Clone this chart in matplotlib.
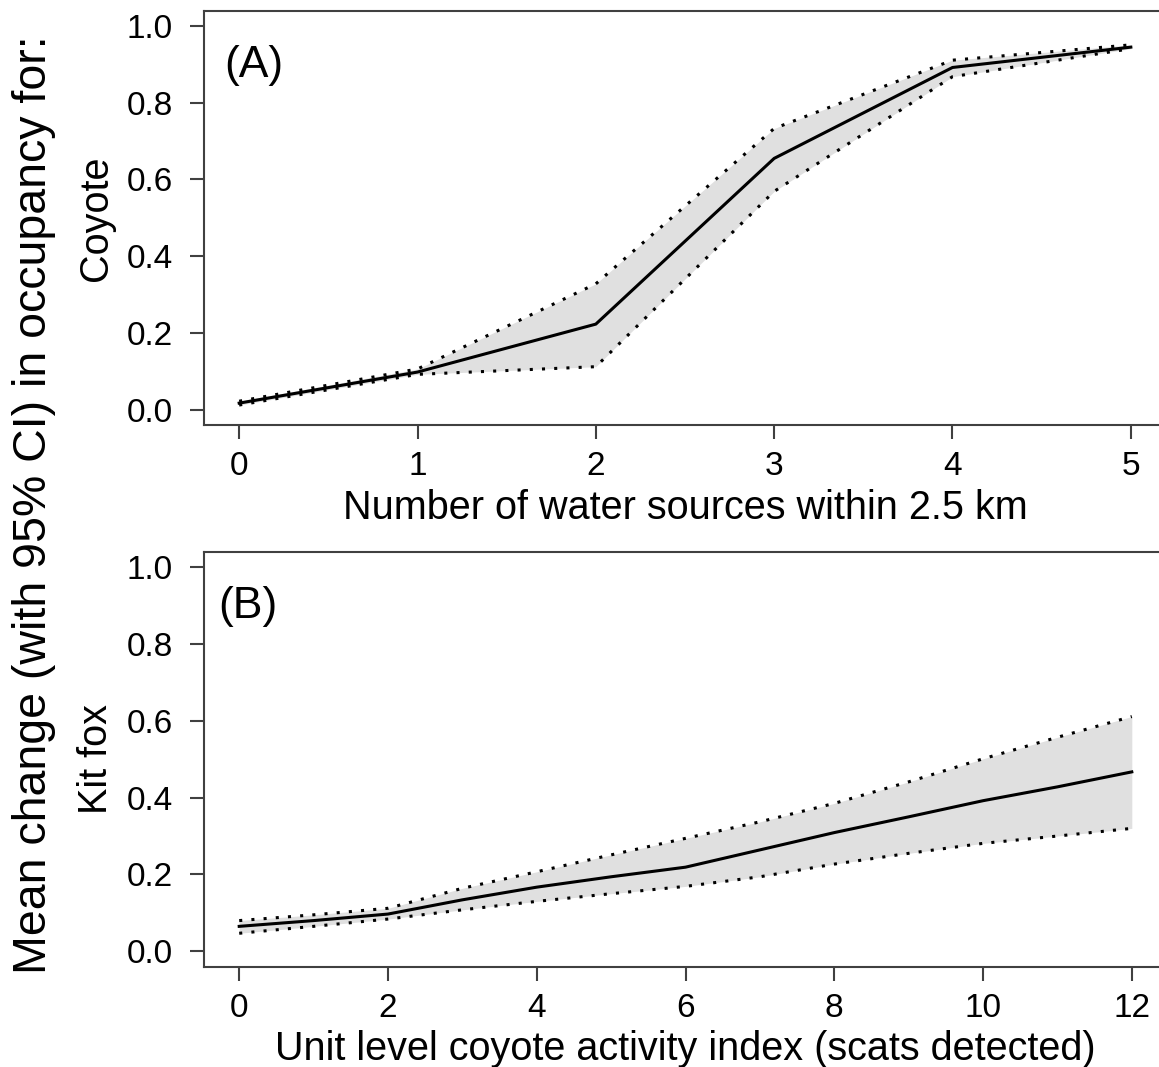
import matplotlib
matplotlib.use("Agg")
import matplotlib.pyplot as plt

# ---- data ----
water_x = [0, 1, 2, 3, 4, 5]
coyote_mean = [0.017, 0.098, 0.223, 0.655, 0.892, 0.945]
coyote_upper = [0.022, 0.106, 0.328, 0.733, 0.911, 0.951]
coyote_lower = [0.012, 0.092, 0.112, 0.569, 0.868, 0.941]

scat_x = [0, 1, 2, 3, 4, 5, 6, 7, 8, 9, 10, 11, 12]
kitfox_mean = [0.065, 0.080, 0.097, 0.134, 0.167, 0.194, 0.219, 0.264, 0.309, 0.350, 0.392, 0.428, 0.467]
kitfox_upper = [0.080, 0.095, 0.112, 0.164, 0.207, 0.251, 0.294, 0.337, 0.385, 0.441, 0.501, 0.557, 0.611]
kitfox_lower = [0.047, 0.065, 0.084, 0.108, 0.130, 0.150, 0.169, 0.194, 0.227, 0.255, 0.281, 0.300, 0.320]

top_xticks = [0, 1, 2, 3, 4, 5]
bot_xticks = [0, 2, 4, 6, 8, 10, 12]
yticks = [0.0, 0.2, 0.4, 0.6, 0.8, 1.0]
ytick_labels = ["0.0", "0.2", "0.4", "0.6", "0.8", "1.0"]

plt.rcParams['font.family'] = ['Liberation Sans', 'DejaVu Sans']

W, H = 1159, 1067
fig = plt.figure(figsize=(W / 100, H / 100), dpi=100)

spine_col = '#404040'
fill_col = '#e0e0e0'

def px(x, y):
    return x / W, 1 - y / H

def panel(rect, x, m, lo, hi, xlim, xticks, label):
    ax = fig.add_axes(rect)
    ax.fill_between(x, lo, hi, color=fill_col, lw=0, zorder=1)
    ax.plot(x, hi, color='black', lw=2.2, ls=(0, (1, 3)), zorder=2)
    ax.plot(x, lo, color='black', lw=2.2, ls=(0, (1, 3)), zorder=2)
    ax.plot(x, m, color='black', lw=2.2, zorder=3)
    ax.set_xlim(*xlim)
    ax.set_ylim(-0.04, 1.04)
    ax.set_xticks(xticks)
    ax.set_xticklabels([str(t) for t in xticks])
    ax.set_yticks(yticks)
    ax.set_yticklabels(ytick_labels)
    for s in ['left', 'bottom', 'top', 'right']:
        ax.spines[s].set_color(spine_col)
        ax.spines[s].set_linewidth(1.5)
    ax.tick_params(axis='both', direction='out', length=10, width=1.5,
                   color=spine_col, labelsize=24, labelcolor='black')
    ax.tick_params(axis='x', pad=9)
    ax.tick_params(axis='y', pad=12)
    ax.text(label[1], 0.868, label[0], transform=ax.transAxes,
            fontsize=32, ha='left', va='center')
    return ax

axA = panel([203.5 / W, 1 - 425 / H, 963 / W, 414.3 / H],
            water_x, coyote_mean, coyote_lower, coyote_upper,
            (-0.2, 5.2), top_xticks, ("(A)", 0.022))
axB = panel([203.5 / W, 1 - 966.7 / H, 964 / W, 415 / H],
            scat_x, kitfox_mean, kitfox_lower, kitfox_upper,
            (-0.48, 12.48), bot_xticks, ("(B)", 0.015))

x, y = px(685, 519)
fig.text(x, y, "Number of water sources within 2.5 km", fontsize=28.5,
         ha='center', va='baseline')
x, y = px(685, 1060)
fig.text(x, y, "Unit level coyote activity index (scats detected)", fontsize=28.5,
         ha='center', va='baseline')

x, y = px(96, 218)
fig.text(x, y, "Coyote", fontsize=28.5, rotation=90, ha='center', va='center')
x, y = px(96, 759)
fig.text(x, y, "Kit fox", fontsize=28.5, rotation=90, ha='center', va='center')

x, y = px(34, 505)
fig.text(x, y, "Mean change (with 95% CI) in occupancy for:", fontsize=33.5,
         rotation=90, ha='center', va='center')

fig.savefig("out.png", dpi=100)
